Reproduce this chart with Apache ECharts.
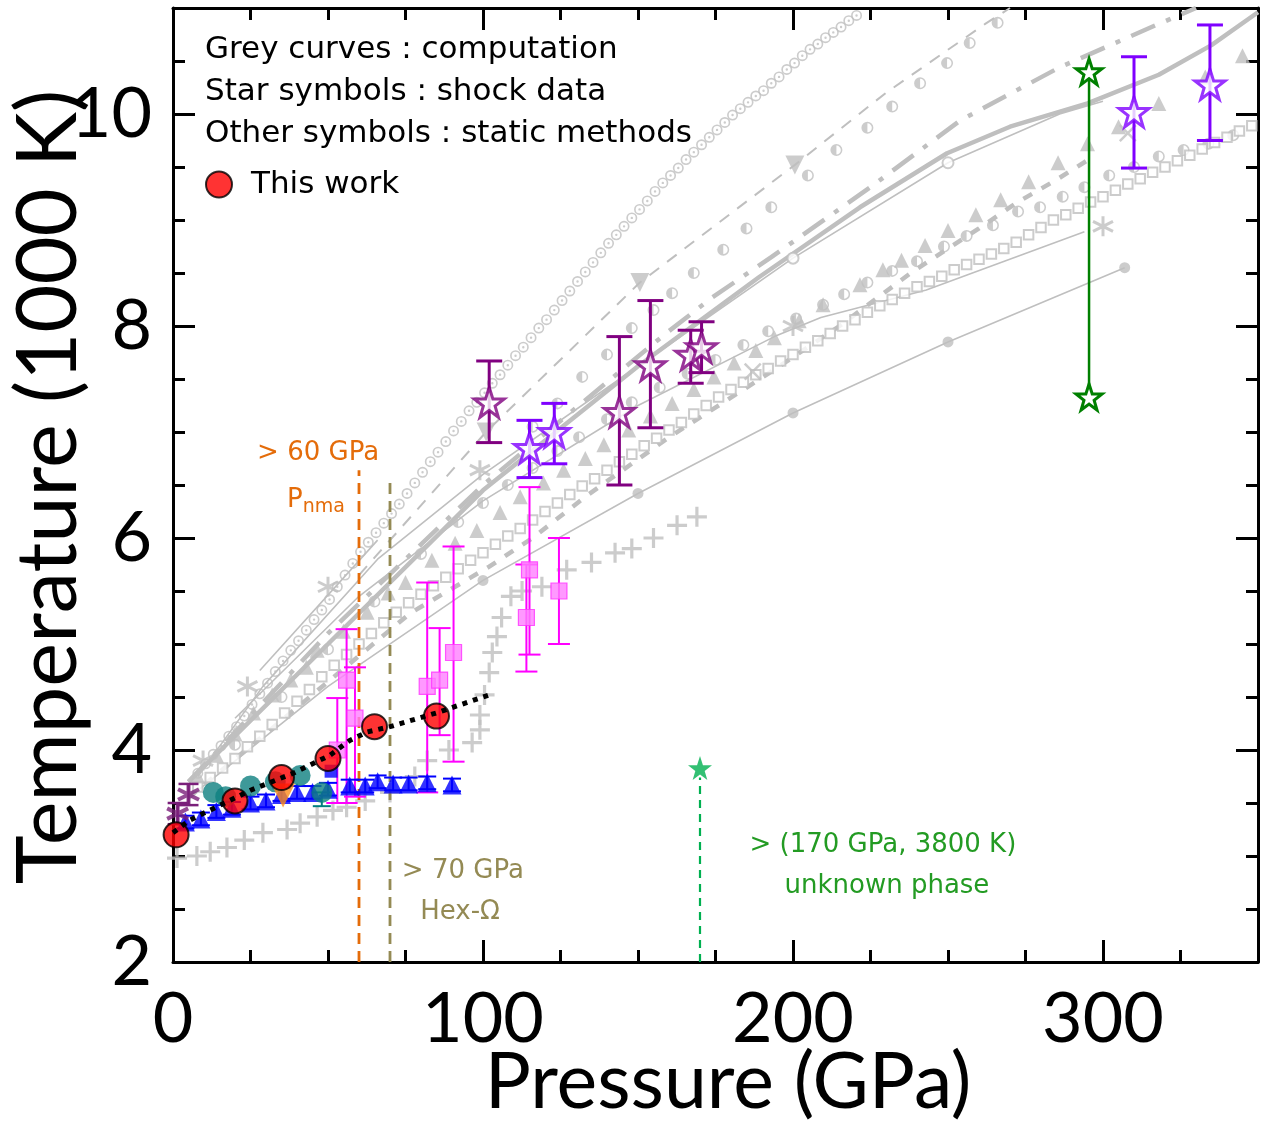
<!DOCTYPE html>
<html><head><meta charset="utf-8">
<script src="https://cdn.jsdelivr.net/npm/echarts/dist/echarts.min.js"></script>
<style>html,body{margin:0;padding:0;background:#fff}#c{width:1264px;height:1127px}</style>
</head><body><div id="c"></div>
<script>
// ---------------- DATA (Pressure GPa, Temperature 1000 K) ----------------
const xTicks = [0, 100, 200, 300];
const yTicks = [2, 4, 6, 8, 10];
const xTitle = 'Pressure (GPa)';
const yTitle = 'Temperature (1000 K)';

// This work
const redP = [1, 20, 35, 50, 65, 85];
const redT = [3.2, 3.52, 3.74, 3.92, 4.22, 4.32];
const fitCurve = [[0,3.22],[5.5,3.34],[25,3.62],[38.7,3.78],[50.6,3.95],[57,4.09],[62.6,4.17],[70,4.22],[85,4.35],[102,4.52]];

// Static data (coloured)
const blueTri = [[4,3.32],[9,3.35],[14,3.42],[19,3.45],[25,3.5],[30,3.52],[35,3.58],[40,3.6],[45,3.6],[50,3.63],[57,3.66],[62,3.66],[66,3.7],[71,3.68],[76,3.68],[82,3.69],[90,3.67]];
const blueSq = [[51,3.8]];
const tealCirc = [[13,3.6],[17,3.56],[25,3.66],[33,3.7],[41,3.76],[48,3.6]];
const tealErr = [[48,3.47,3.6]];
const orangeTri = [[35.5,3.57]];
const magentaSq = [[53,4.0],[56,4.66],[58.7,4.3],[82,4.6],[86,4.66],[90.5,4.92],[114,5.25],[115,5.7],[124.5,5.5]];
const magentaErr = [[53,3.5,4.49],[56,3.5,5.14],[58.7,3.56,4.78],[82,3.6,5.58],[86,4.14,5.15],[90.5,3.89,5.92],[114,4.74,5.75],[115,4.9,6.48],[124.5,5.0,6.0]];

// Shock data (stars)
const purpleAst = [[1.5,3.4],[5,3.58]];
const purpleAstErr = [[1.5,3.3,3.5],[5,3.48,3.68]];
const plumStar = [[102,7.28],[144,7.19],[154,7.63],[167,7.73],[170.5,7.8]];
const plumErr = [[102,6.9,7.67],[144,6.5,7.9],[154,7.04,8.24],[167,7.46,7.96],[170.5,7.56,8.04]];
const violetStar = [[115,6.85],[123,7.0],[310,10.02],[334.5,10.28]];
const violetErr = [[115,6.57,7.11],[123,6.7,7.27],[310,9.49,10.54],[334.5,9.75,10.84]];
const greenStar = [[295.5,10.4],[295.5,7.33]];
const unknownPhase = [[170,3.83]];

// Phase boundaries
const pnmaLine = [[60,2],[60,6.64]];
const hexLine = [[70,2],[70,6.55]];
const unkLine = [[170,2],[170,3.74]];

// Grey computations / other data
const gOpenCirc = [[8,3.78],[10.5,3.87],[13,3.96],[15.5,4.04],[18,4.13],[20.5,4.22],[23,4.32],[25.5,4.43],[28,4.53],[30.5,4.63],[33,4.74],[35.5,4.84],[38,4.94],[40.5,5.03],[43,5.13],[45.5,5.23],[48,5.32],[50.5,5.42],[53,5.54],[55.5,5.65],[58,5.76],[60.5,5.87],[63,5.96],[65.5,6.05],[68,6.14],[70.5,6.23],[73,6.32],[75.5,6.42],[78,6.52],[80.5,6.62],[83,6.72],[85.5,6.81],[88,6.91],[90.5,7.01],[93,7.1],[95.5,7.2],[98,7.28],[100.5,7.37],[103,7.46],[105.5,7.54],[108,7.63],[110.5,7.72],[113,7.8],[115.5,7.89],[118,7.98],[120.5,8.06],[123,8.15],[125.5,8.24],[128,8.33],[130.5,8.42],[133,8.51],[135.5,8.6],[138,8.69],[140.5,8.78],[143,8.86],[145.5,8.94],[148,9.02],[150.5,9.1],[153,9.18],[155.5,9.27],[158,9.35],[160.5,9.42],[163,9.49],[165.5,9.57],[168,9.64],[170.5,9.71],[173,9.78],[175.5,9.85],[178,9.92],[180.5,9.99],[183,10.05],[185.5,10.11],[188,10.17],[190.5,10.22],[193,10.29],[195.5,10.35],[198,10.42],[200.5,10.48],[203,10.55],[205.5,10.61],[208,10.66],[210.5,10.72],[213,10.77],[215.5,10.82],[218,10.88],[220.5,10.93]];
const gDashed = [[60,5.65],[101,7.0],[150.6,8.41],[200.6,9.52],[230,10.2],[262,10.85],[270,11.0]];
const gDownTri = [[101,7.0],[150.6,8.41],[200.6,9.52]];
const gHalfUp = [[116,7.05],[124,7.27],[132,7.52],[140,7.73],[148,7.98],[155,8.15],[161,8.31],[168,8.5],[177.5,8.72],[185,8.92],[193,9.12],[204.8,9.42],[214,9.66],[224,9.87],[232,10.07],[241,10.29],[249.7,10.48],[257,10.67],[266,10.86]];
const gDashDot = [[5,3.7],[50,5.1],[100,6.5],[159,7.93],[174,8.27],[193,8.65],[225,9.31],[254,9.94],[286,10.44],[318,10.85],[330,11.0]];
const gThick = [[5,3.7],[50,5.0],[100,6.45],[150,7.62],[189,8.46],[221.6,9.12],[249.7,9.63],[270,9.88],[295,10.1],[318,10.37],[335,10.65],[350,10.96]];
const gThinCirc = [[8,3.75],[29,4.6],[66,5.8],[100,6.6],[150,7.62],[200,8.64],[250,9.54],[286,10.0],[300,10.12]];
const gThinCircMk = [[200,8.64],[250,9.54]];
const gTri = [[8,3.75],[14,3.95],[20,4.15],[26,4.35],[32,4.52],[38,4.66],[43,4.78],[46.5,4.94],[55,5.12],[62.6,5.3],[69.4,5.48],[75,5.58],[83.5,5.79],[91,5.95],[98,6.07],[105.5,6.24],[112,6.39],[119.5,6.52],[126,6.64],[133,6.75],[139,6.88],[147,7.02],[154,7.15],[161,7.27],[168,7.4],[174.5,7.52],[181,7.65],[188,7.77],[194,7.89],[202,8.05],[209.7,8.2],[221.6,8.39],[229,8.53],[235,8.62],[242.6,8.76],[250,8.9],[259,9.05],[267,9.19],[276,9.36],[285.5,9.54],[295,9.72],[305,9.88],[318,10.1],[333,10.35],[345,10.55]];
const gDashThick = [[5,3.55],[40,4.4],[76.5,5.29],[102,5.73],[116,6.0],[133.5,6.4],[160,6.95],[192,7.55],[215,8.0],[238,8.5],[250,8.73],[260,8.92],[272,9.16],[285,9.38],[297,9.6]];
const gHalfLow = [[20,4.05],[35,4.5],[50,4.95],[65,5.4],[80,5.85],[92,6.15],[100,6.33],[108,6.5],[116,6.66],[124,6.82],[131,6.95],[140,7.12],[148,7.28],[157,7.42],[166,7.55],[175,7.68],[184,7.82],[192,7.95],[201,8.07],[209.7,8.2],[216.5,8.3],[224,8.41],[232,8.52],[240,8.61],[248.7,8.75],[256,8.85],[264.5,8.95],[272.6,9.08],[279.7,9.12],[287,9.22],[294,9.31],[302,9.42],[310,9.5],[318,9.6],[326,9.66],[334,9.72],[342,9.8]];
const gOpenSq = [[8,3.65],[12,3.74],[16,3.83],[20,3.92],[24,4.03],[28,4.13],[32,4.24],[36,4.35],[40,4.46],[44,4.57],[48,4.69],[52,4.8],[56,4.9],[60,5.0],[64,5.1],[68,5.2],[72,5.3],[76,5.39],[80,5.47],[84,5.55],[88,5.63],[92,5.71],[96,5.79],[100,5.86],[104,5.94],[108,6.02],[112,6.09],[116,6.17],[120,6.25],[124,6.33],[128,6.41],[132,6.49],[136,6.56],[140,6.64],[144,6.72],[148,6.79],[152,6.87],[156,6.94],[160,7.02],[164,7.09],[168,7.17],[172,7.25],[176,7.33],[180,7.4],[184,7.47],[188,7.54],[192,7.6],[196,7.67],[200,7.73],[204,7.8],[208,7.86],[212,7.93],[216,8.0],[220,8.06],[224,8.13],[228,8.19],[232,8.25],[236,8.31],[240,8.37],[244,8.42],[248,8.47],[252,8.53],[256,8.58],[260,8.63],[264,8.68],[268,8.73],[272,8.79],[276,8.86],[280,8.93],[284,9.0],[288,9.05],[292,9.11],[296,9.17],[300,9.22],[304,9.28],[308,9.34],[312,9.39],[316,9.45],[320,9.5],[324,9.56],[328,9.61],[332,9.67],[336,9.73],[340,9.78],[344,9.84],[348,9.89]];
const gThin = [[20,4.3],[60,5.45],[100,6.35],[150,7.25],[194,7.9],[209,8.08],[243,8.34],[294,8.89]];
const gThinTop = [[28,4.75],[66,5.98]];
const gDotLine = [[5,3.55],[15,3.78],[50,4.6],[100,5.6],[150,6.42],[200,7.18],[250,7.85],[307,8.55]];
const gDotMk = [[100,5.6],[150,6.42],[200,7.18],[250,7.85],[307,8.55]];
const gPlus = [[1.3,2.98],[7.7,3.0],[12,3.04],[17.4,3.08],[23,3.15],[29,3.22],[36.8,3.25],[41,3.31],[46.5,3.37],[51.6,3.43],[56,3.46],[62,3.52],[70,3.6],[78,3.75],[82,3.9],[89,4.0],[96.5,4.07],[99,4.19],[99,4.33],[100.5,4.52],[102,4.73],[103,4.92],[104.5,5.07],[106,5.25],[109,5.45],[112.6,5.5],[119,5.54],[127,5.7],[135,5.77],[142.6,5.86],[148,5.9],[155,6.0],[162.6,6.12],[169,6.2]];
const gAst = [[9.7,3.9],[24,4.6],[50,5.54],[99,6.64],[200,8.0],[300,8.94]];
const gCross = [[187,7.57],[308,9.82]];

// ---------------- STYLE ----------------
const FONT = "Lato, 'Open Sans', sans-serif";
const TFONT = "'DejaVu Sans', Verdana, sans-serif";
const GREY = '#bfbfbf';
const SYM_STAR = 'path://M50,0L61.8,35.1L98.1,35.1L68.8,56.8L79.4,91L50,70L20.6,91L31.2,56.8L1.9,35.1L38.2,35.1Z';
const SYM_RINGDOT = 'path://M10,0A10,10 0 1,1 10,20A10,10 0 1,1 10,0ZM10,3A7,7 0 1,0 10,17A7,7 0 1,0 10,3ZM10,7.8A2.2,2.2 0 1,1 10,12.2A2.2,2.2 0 1,1 10,7.8Z';
const SYM_HALF = 'path://M10,0A10,10 0 1,1 10,20A10,10 0 1,1 10,0ZM10,2.6A7.4,7.4 0 1,0 10,17.4A7.4,7.4 0 1,0 10,2.6ZM10,2.6A7.4,7.4 0 0,0 10,17.4Z';
const SYM_PLUS = 'path://M10,0L10,20M0,10L20,10';
const SYM_AST = 'path://M10,0L10,20M1.3,5L18.7,15M1.3,15L18.7,5';
const SYM_X = 'path://M0,0L20,20M0,20L20,0';

function lineS(data, width, type, z, color) {
  return {type:'line', data, symbol:'none', silent:true, z: z||2, clip:true,
    lineStyle:{color: color||GREY, width, type: type||'solid', cap:'butt'}};
}
function scatS(data, symbol, size, itemStyle, z, name) {
  const s = {type:'scatter', data, symbol, symbolSize:size, silent:true, z: z||3, itemStyle};
  if (name) s.name = name;
  return s;
}
function strokeSym(data, symbol, size, color, w, z) {
  return scatS(data, symbol, size, {color:'transparent', borderColor:color, borderWidth:w}, z);
}
function errS(data, color, capW, lw, z) {
  return {type:'custom', data, silent:true, z: z||5, encode:{x:0, y:[1,2]},
    renderItem: function (params, api) {
      const x = api.value(0), lo = api.value(1), hi = api.value(2);
      const a = api.coord([x, lo]), b = api.coord([x, hi]);
      const st = {stroke: color, lineWidth: lw};
      return {type:'group', children:[
        {type:'line', shape:{x1:a[0], y1:a[1], x2:b[0], y2:b[1]}, style:st},
        {type:'line', shape:{x1:a[0]-capW, y1:a[1], x2:a[0]+capW, y2:a[1]}, style:st},
        {type:'line', shape:{x1:b[0]-capW, y1:b[1], x2:b[0]+capW, y2:b[1]}, style:st}
      ]};
    }};
}

const tickStyle = {color:'#000', width:3};
function xAx(pos, interval, len, major) {
  return {type:'value', min:0, max:350, interval, position:pos,
    axisLine:{show: major, onZero:false, lineStyle:{color:'#000', width:3}},
    axisTick:{show:true, inside:true, length:len, lineStyle:tickStyle},
    axisLabel:{show:false}, splitLine:{show:false}};
}
function yAx(pos, interval, len, major) {
  return {type:'value', min:2, max:11, interval, position:pos,
    axisLine:{show: major, onZero:false, lineStyle:{color:'#000', width:3}},
    axisTick:{show:true, inside:true, length:len, lineStyle:tickStyle},
    axisLabel:{show:false}, splitLine:{show:false}};
}
const xMain = xAx('bottom', 100, 22, true);
xMain.axisLabel = {show:true, fontSize:70, color:'#000', margin:22, fontFamily:FONT, showMaxLabel:false,
  formatter: v => xTicks.includes(v) ? String(v) : ''};
const yMain = yAx('left', 2, 22, true);
yMain.axisLabel = {show:true, fontSize:70, color:'#000', margin:21, fontFamily:FONT, showMaxLabel:false,
  formatter: v => yTicks.includes(v) ? String(v) : ''};

const series = [
  // grey background
  lineS(gThinTop, 1.6, 'solid', 2),
  lineS(gDashed, 2, [12,10], 2),
  lineS(gDashDot, 4.5, [26,12,5,12], 2),
  lineS(gThick, 4.5, 'solid', 2),
  lineS(gThinCirc, 1.6, 'solid', 2),
  lineS(gDashThick, 4.5, [10,11], 2),
  lineS(gThin, 1.6, 'solid', 2),
  lineS(gDotLine, 1.6, 'solid', 2),
  scatS(gOpenCirc, SYM_RINGDOT, 11, {color:GREY}),
  Object.assign(scatS(gDownTri, 'triangle', 19, {color:GREY}), {symbolRotate:180}),
  scatS(gHalfUp, SYM_HALF, 12, {color:GREY}),
  scatS(gHalfLow, SYM_HALF, 12, {color:GREY}),
  scatS(gThinCircMk, 'emptyCircle', 11, {color:GREY, borderColor:GREY, borderWidth:1.5}),
  scatS(gTri, 'triangle', 15, {color:GREY}),
  scatS(gOpenSq, 'emptyRect', 9.5, {color:GREY, borderColor:GREY, borderWidth:1.3}),
  scatS(gDotMk, 'circle', 11, {color:GREY}),
  strokeSym(gPlus, SYM_PLUS, 20, GREY, 3.2, 3),
  strokeSym(gAst, SYM_AST, 20, GREY, 3, 3),
  strokeSym(gCross, SYM_X, 16, GREY, 2.5, 3),
  // phase boundaries
  lineS(pnmaLine, 2.8, [11,7], 4, '#e46c0a'),
  lineS(hexLine, 2.8, [11,7], 4, '#948a54'),
  lineS(unkLine, 2.2, [8,6], 4, '#00b050'),
  // coloured static data
  errS(magentaErr, '#ff00ff', 11, 2, 5),
  scatS(magentaSq, 'rect', 16, {color:'#ff80ff', borderColor:'#ff33ff', borderWidth:1.2}, 6),
  errS(blueTri.map(d => [d[0], d[1]-0.06, d[1]+0.06]), '#0000ff', 9, 2, 5),
  scatS(blueTri, 'triangle', 19, {color:'#0000ff'}, 6),
  scatS(blueSq, 'rect', 13, {color:'#0000ff'}, 6),
  errS(tealErr, '#007f7f', 9, 2, 5),
  scatS(tealCirc, 'circle', 21, {color:'#0e7f7f'}, 6),
  Object.assign(scatS(orangeTri, 'triangle', 24, {color:'#ff8c1a'}, 6), {symbolRotate:180}),
  // shock data
  errS(purpleAstErr, '#7a1f7a', 10, 2.5, 6),
  strokeSym(purpleAst, SYM_AST, 21, '#7a1f7a', 4, 6),
  errS(plumErr, '#800080', 13, 3, 6),
  scatS(plumStar, SYM_STAR, 30, {color:'#fff', borderColor:'#800080', borderWidth:3}, 7),
  errS(violetErr, '#7f00ff', 13, 3, 6),
  scatS(violetStar, SYM_STAR, 30, {color:'#fff', borderColor:'#7f00ff', borderWidth:3}, 7),
  {type:'line', data:greenStar, symbol:SYM_STAR, symbolSize:26, silent:true, z:7,
    lineStyle:{color:'#008000', width:2.5}, itemStyle:{color:'#fff', borderColor:'#008000', borderWidth:3}},
  scatS(unknownPhase, SYM_STAR, 24, {color:'#00b050'}, 7),
  // this work
  scatS(redP.map((p,i) => [p, redT[i]]), 'circle', 25, {color:'#ff0000', borderColor:'#000', borderWidth:2}, 8, 'This work'),
  {type:'line', data:fitCurve, symbol:'none', silent:true, z:9,
    lineStyle:{color:'#000', width:5, type:[5,6], cap:'butt'}}
];

const chart = echarts.init(document.getElementById('c'), null, {renderer:'canvas'});
chart.setOption({
  animation:false,
  backgroundColor:'#fff',
  grid:{left:173, right:6, top:8, bottom:165, containLabel:false, outerBoundsMode:'none'},
  xAxis:[xMain, xAx('top', 100, 22, true), xAx('bottom', 25, 12, false), xAx('top', 25, 12, false)],
  yAxis:[yMain, yAx('right', 2, 22, true), yAx('left', 0.5, 12, false), yAx('right', 0.5, 12, false)],
  legend:{data:['This work'], left:205, top:169, padding:0, itemWidth:26, itemHeight:26, icon:'circle',
    textStyle:{fontSize:31, color:'#000', fontFamily:TFONT, padding:[0,0,0,14]}},
  series: series.map(s => Object.assign({xAxisIndex:0, yAxisIndex:0, animation:false}, s))
});

function px(p, t) { return chart.convertToPixel({xAxisIndex:0, yAxisIndex:0}, [p, t]); }
function txt(x, y, text, color, size, align, rich, font) {
  const st = {text, fill:color, font: size + 'px ' + (font || TFONT), align: align||'center', textAlign: align||'center',
    verticalAlign:'middle', textVerticalAlign:'middle'};
  if (rich) st.rich = rich;
  return {type:'text', x, y, z:20, style:st};
}
const a60 = px(46.8, 6.8), aP = px(46.1, 6.36), a70 = px(93.5, 2.86), aHex = px(92.6, 2.47),
      aU1 = px(229, 3.10), aU2 = px(230.3, 2.71);
const subStyle = {fontSize:19, fontFamily:TFONT, fill:'#e46c0a', color:'#e46c0a', padding:[14,0,0,0]};
const yT = txt(49, 487, yTitle, '#000', 83, 'center', null, FONT);
yT.rotation = Math.PI / 2;
chart.setOption({graphic:[
  txt(728, 1083, xTitle, '#000', 77, 'center', null, FONT),
  yT,
  txt(205, 50, 'Grey curves : computation', '#000', 31, 'left'),
  txt(205, 92, 'Star symbols : shock data', '#000', 31, 'left'),
  txt(205, 134, 'Other symbols : static methods', '#000', 31, 'left'),
  txt(a60[0], a60[1], '> 60 GPa', '#e46c0a', 26),
  txt(aP[0], aP[1], '{a|P}{b|nma}', '#e46c0a', 26, 'center',
      {a:{fontSize:26, fontFamily:TFONT, fill:'#e46c0a', color:'#e46c0a'}, b:subStyle}),
  txt(a70[0], a70[1], '> 70 GPa', '#948a54', 26),
  txt(aHex[0], aHex[1], 'Hex-Ω', '#948a54', 26),
  txt(aU1[0], aU1[1], '> (170 GPa, 3800 K)', '#239b23', 26),
  txt(aU2[0], aU2[1], 'unknown phase', '#239b23', 26)
]});
</script></body></html>
